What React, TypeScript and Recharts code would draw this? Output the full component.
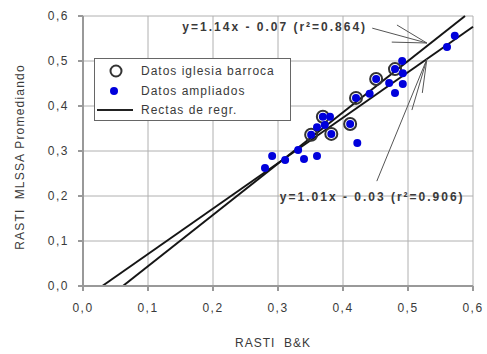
import React from 'react';
import {
  ComposedChart,
  Scatter,
  XAxis,
  YAxis,
  CartesianGrid,
  ReferenceLine,
  ReferenceDot,
  Legend,
} from 'recharts';

// Datos iglesia barroca (RASTI B&K vs RASTI MLSSA promediado)
const barrocaX = [0.369, 0.351, 0.382, 0.411, 0.42, 0.451, 0.48];
const barrocaY = [0.376, 0.336, 0.338, 0.36, 0.418, 0.46, 0.482];

// Datos ampliados
const ampliadosX = [
  0.572, 0.56, 0.491, 0.48, 0.492, 0.451, 0.471, 0.492, 0.48, 0.441, 0.42, 0.369, 0.38,
  0.36, 0.372, 0.351, 0.382, 0.411, 0.422, 0.331, 0.291, 0.311, 0.34, 0.36, 0.28,
];
const ampliadosY = [
  0.556, 0.531, 0.5, 0.482, 0.473, 0.46, 0.451, 0.449, 0.429, 0.427, 0.418, 0.376, 0.376,
  0.353, 0.358, 0.336, 0.338, 0.36, 0.318, 0.302, 0.289, 0.28, 0.282, 0.289, 0.262,
];

const axisTicks = [0, 0.1, 0.2, 0.3, 0.4, 0.5, 0.6];
const axisMax = 0.6;

// Rectas de regresión
const regrSteep = { slope: 1.14, intercept: -0.07, r2: 0.864 };
const regrFlat = { slope: 1.01, intercept: -0.03, r2: 0.906 };

// Anotaciones: posición del texto y flechas (punta + orígenes de trazos)
const noteSteepAt = { x: 0.295, y: 0.576 };
const noteFlatAt = { x: 0.445, y: 0.198 };
const arrowSteepTip = { x: 0.529, y: 0.54 };
const arrowSteepTails = [
  { x: 0.445, y: 0.573 },
  { x: 0.483, y: 0.58 },
  { x: 0.475, y: 0.542 },
];
const arrowFlatTip = { x: 0.529, y: 0.504 };
const arrowFlatTails = [
  { x: 0.452, y: 0.233 },
  { x: 0.522, y: 0.429 },
  { x: 0.506, y: 0.391 },
];

const FONT = '"Liberation Sans", Arial, sans-serif';
const TEXT = '#3a3a3a';

const barrocaData = barrocaX.map((x, i) => ({ x, y: barrocaY[i] }));
const ampliadosData = ampliadosX.map((x, i) => ({ x, y: ampliadosY[i] }));

const fmt = (v: number) => v.toFixed(1).replace('.', ',');

function regrSegment(r: { slope: number; intercept: number }) {
  const x0 = -r.intercept / r.slope;
  const x1 = Math.min(axisMax, (axisMax - r.intercept) / r.slope);
  return [
    { x: x0, y: 0 },
    { x: x1, y: r.slope * x1 + r.intercept },
  ];
}

function regrText(r: { slope: number; intercept: number; r2: number }) {
  const sign = r.intercept < 0 ? '-' : '+';
  return `y=${r.slope.toFixed(2)}x ${sign} ${Math.abs(r.intercept).toFixed(2)} (r\u00B2=${r.r2.toFixed(3)})`;
}

const OpenDot = (props: any) => (
  <circle cx={props.cx} cy={props.cy} r={6} fill="none" stroke="#333" strokeWidth={2} />
);
const BlueDot = (props: any) => (
  <circle cx={props.cx} cy={props.cy} r={4} fill="#0000dc" />
);

const LegendBox = () => (
  <svg width={197} height={63} style={{ display: 'block' }}>
    <rect x={0.5} y={0.5} width={196} height={62} fill="#fff" stroke="#666" strokeWidth={1} />
    <circle cx={22} cy={13} r={5.5} fill="none" stroke="#333" strokeWidth={2} />
    <circle cx={20} cy={33} r={4} fill="#0000dc" />
    <line x1={3} x2={39} y1={52} y2={52} stroke="#222" strokeWidth={2} />
    {['Datos iglesia barroca', 'Datos ampliados', 'Rectas de regr.'].map((t, i) => (
      <text
        key={t}
        x={47}
        y={13 + i * 19.5}
        dy="0.35em"
        fontSize={12}
        letterSpacing={1}
        fill={TEXT}
        fontFamily={FONT}
      >
        {t}
      </text>
    ))}
  </svg>
);

const noteLabel = (text: string) => (props: any) => {
  const vb = props.viewBox || {};
  const cx = vb.cx ?? vb.x;
  const cy = vb.cy ?? vb.y;
  return (
    <text
      x={cx}
      y={cy}
      dy="0.35em"
      textAnchor="middle"
      fontSize={12}
      fontWeight="bold"
      letterSpacing={2}
      fill={TEXT}
      fontFamily={FONT}
    >
      {text}
    </text>
  );
};

export default function App() {
  const segSteep = regrSegment(regrSteep);
  const segFlat = regrSegment(regrFlat);
  return (
    <div style={{ position: 'absolute', left: 0, top: 0 }}>
      <ComposedChart
        width={487}
        height={354}
        margin={{ top: 16, right: 14, bottom: 38, left: 23 }}
        style={{ fontFamily: FONT }}
      >
        <CartesianGrid stroke="#b0b0b0" strokeWidth={1} />
        <XAxis
          type="number"
          dataKey="x"
          domain={[0, axisMax]}
          ticks={axisTicks}
          tickFormatter={fmt}
          allowDataOverflow
          height={30}
          tickSize={5}
          tickMargin={12}
          axisLine={{ stroke: '#999', strokeWidth: 2 }}
          tickLine={{ stroke: '#999', strokeWidth: 2 }}
          tick={{ fill: TEXT, fontSize: 12, letterSpacing: 1.5 }}
          label={{
            content: (p: any) => {
              const vb = p.viewBox;
              return (
                <text
                  x={vb.x + vb.width / 2 - 5}
                  y={347}
                  textAnchor="middle"
                  fontSize={12}
                  letterSpacing={1}
                  fill={TEXT}
                  fontFamily={FONT}
                  style={{ whiteSpace: 'pre' }}
                >
                  {'RASTI  B&K'}
                </text>
              );
            },
          }}
        />
        <YAxis
          type="number"
          dataKey="y"
          domain={[0, axisMax]}
          ticks={axisTicks}
          tickFormatter={fmt}
          allowDataOverflow
          width={60}
          tickSize={5}
          tickMargin={9}
          axisLine={{ stroke: '#999', strokeWidth: 2 }}
          tickLine={{ stroke: '#999', strokeWidth: 2 }}
          tick={{ fill: TEXT, fontSize: 12, letterSpacing: 1.5 }}
          label={{
            content: (p: any) => {
              const vb = p.viewBox;
              const x = vb.x - 3;
              const y = vb.y + vb.height / 2 + 6;
              return (
                <text
                  x={x}
                  y={y}
                  dy="0.35em"
                  textAnchor="middle"
                  transform={`rotate(-90, ${x}, ${y})`}
                  fontSize={12}
                  letterSpacing={1.2}
                  fill={TEXT}
                  fontFamily={FONT}
                  style={{ whiteSpace: 'pre' }}
                >
                  {'RASTI  MLSSA Promediando'}
                </text>
              );
            },
          }}
        />

        <ReferenceLine segment={segSteep} stroke="#151515" strokeWidth={2} ifOverflow="extendDomain" />
        <ReferenceLine segment={segFlat} stroke="#151515" strokeWidth={2} ifOverflow="extendDomain" />

        {arrowSteepTails.map((t, i) => (
          <ReferenceLine key={`as${i}`} segment={[t, arrowSteepTip]} stroke="#555" strokeWidth={1} />
        ))}
        {arrowFlatTails.map((t, i) => (
          <ReferenceLine key={`af${i}`} segment={[t, arrowFlatTip]} stroke="#555" strokeWidth={1} />
        ))}

        <Scatter
          name="Datos iglesia barroca"
          data={barrocaData}
          shape={OpenDot}
          isAnimationActive={false}
        />
        <Scatter
          name="Datos ampliados"
          data={ampliadosData}
          shape={BlueDot}
          isAnimationActive={false}
        />

        <ReferenceDot
          x={noteSteepAt.x}
          y={noteSteepAt.y}
          r={0}
          fill="none"
          stroke="none"
          label={{ content: noteLabel(regrText(regrSteep)) }}
        />
        <ReferenceDot
          x={noteFlatAt.x}
          y={noteFlatAt.y}
          r={0}
          fill="none"
          stroke="none"
          label={{ content: noteLabel(regrText(regrFlat)) }}
        />

        <Legend
          layout="horizontal"
          verticalAlign="middle"
          align="center"
          content={LegendBox}
          wrapperStyle={{ left: 94, top: 58, width: 197, height: 63 }}
        />
      </ComposedChart>
    </div>
  );
}
